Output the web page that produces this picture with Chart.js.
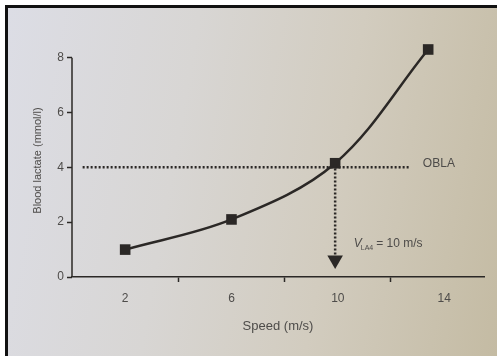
<!DOCTYPE html>
<html>
<head>
<meta charset="utf-8">
<script src="https://cdn.jsdelivr.net/npm/chart.js@4"></script>
<style>
  html, body { margin: 0; padding: 0; background: #ffffff; }
  #page {
    position: absolute; left: 5px; top: 5px; width: 489px; height: 351px;
    border-top: 3px solid #111; border-left: 3px solid #111;
    background: linear-gradient(100deg, #dcdde5 0%, #d8d6d4 35%, #d2ccbf 65%, #c4bba3 100%);
  }
  #wrap { position: absolute; left: 0; top: 0; width: 497px; height: 356px; }
</style>
</head>
<body>
<div id="page"></div>
<div id="wrap"><canvas id="lactateChart"></canvas></div>
<script>
// === Data ===
const speeds = [2, 6, 9.9, 13.4];
const lactate = [1.0, 2.1, 4.15, 8.3];
const xTickValues = [2, 4, 6, 8, 10, 12, 14];
const xLabelled = [2, 6, 10, 14];
const yTickValues = [0, 2, 4, 6, 8];
const oblaX = [0.4, 12.7];
const oblaY = [4, 4];
const vla4X = [9.9, 9.9];
const vla4Y = [4.1, 0.75];
const arrowPoint = [{ x: 9.9, y: 0.62 }];

const ink = '#2b2826';
const textGray = '#4e4c4a';
const font = 'Liberation Sans, Arial, sans-serif';

// y axis line only runs from 0 to 8, the top point sits above it
const yAxisLine = {
  id: 'yAxisLine',
  afterDraw(chart) {
    const ctx = chart.ctx;
    const ys = chart.scales.y;
    ctx.save();
    ctx.strokeStyle = ink;
    ctx.lineWidth = 1.5;
    ctx.beginPath();
    ctx.moveTo(ys.right, ys.getPixelForValue(yTickValues[0]));
    ctx.lineTo(ys.right, ys.getPixelForValue(yTickValues[yTickValues.length - 1]));
    ctx.stroke();
    ctx.restore();
  }
};

// text annotations (OBLA + V_LA4 label)
const annotations = {
  id: 'annotations',
  afterDatasetsDraw(chart) {
    const ctx = chart.ctx;
    const xs = chart.scales.x, ys = chart.scales.y;
    ctx.save();
    ctx.fillStyle = textGray;
    ctx.textBaseline = 'middle';
    ctx.font = '12px ' + font;
    ctx.fillText('OBLA', xs.getPixelForValue(13.2), ys.getPixelForValue(4.15));

    let x = xs.getPixelForValue(10.6);
    const y = ys.getPixelForValue(1.2);
    ctx.font = 'italic 12px ' + font;
    ctx.fillText('V', x, y);
    x += ctx.measureText('V').width - 1;
    ctx.font = '7px ' + font;
    ctx.fillText('LA4', x, y + 4);
    x += ctx.measureText('LA4').width + 3;
    ctx.font = '12px ' + font;
    ctx.fillText('= 10 m/s', x, y);
    ctx.restore();
  }
};

document.addEventListener('DOMContentLoaded', function () {
  const ctx = document.getElementById('lactateChart').getContext('2d');

  new Chart(ctx, {
    type: 'scatter',
    data: {
      datasets: [
        {
          label: 'OBLA',
          data: oblaX.map((x, i) => ({ x: x, y: oblaY[i] })),
          showLine: true,
          borderColor: ink,
          borderWidth: 2.5,
          borderDash: [2, 2],
          pointRadius: 0
        },
        {
          label: 'VLA4',
          data: vla4X.map((x, i) => ({ x: x, y: vla4Y[i] })),
          showLine: true,
          borderColor: ink,
          borderWidth: 2.5,
          borderDash: [2, 2],
          pointRadius: 0
        },
        {
          label: 'Arrow',
          data: arrowPoint,
          pointStyle: 'triangle',
          rotation: 180,
          pointRadius: 9,
          backgroundColor: ink,
          borderColor: ink,
          borderWidth: 0
        },
        {
          label: 'Blood lactate',
          data: speeds.map((x, i) => ({ x: x, y: lactate[i] })),
          showLine: true,
          tension: 0.35,
          borderColor: ink,
          borderWidth: 2.5,
          pointStyle: 'rect',
          pointRadius: 7.5,
          backgroundColor: ink,
          pointBorderWidth: 0
        }
      ]
    },
    options: {
      responsive: true,
      maintainAspectRatio: false,
      animation: false,
      events: [],
      layout: { padding: { left: 28, top: 44, right: 13, bottom: 22 } },
      plugins: {
        legend: { display: false },
        tooltip: { enabled: false }
      },
      scales: {
        x: {
          type: 'linear',
          min: 0,
          max: 15.5,
          afterBuildTicks: function (scale) {
            scale.ticks = xTickValues.map(v => ({ value: v }));
          },
          ticks: {
            autoSkip: false,
            maxRotation: 0,
            padding: 9,
            color: textGray,
            font: { family: font, size: 12 },
            callback: function (value) {
              return xLabelled.includes(value) ? String(value) : '';
            }
          },
          grid: {
            drawOnChartArea: false,
            drawTicks: true,
            tickLength: 5,
            tickWidth: 1.5,
            tickColor: function (c) {
              return c.tick && !xLabelled.includes(c.tick.value) ? ink : 'rgba(0,0,0,0)';
            }
          },
          border: { display: true, color: ink, width: 1.5 },
          title: {
            display: true,
            text: 'Speed (m/s)',
            color: textGray,
            font: { family: font, size: 13 },
            padding: { top: 4, bottom: 0 }
          }
        },
        y: {
          type: 'linear',
          min: 0,
          max: 8.5,
          afterBuildTicks: function (scale) {
            scale.ticks = yTickValues.map(v => ({ value: v }));
          },
          afterFit: function (scale) {
            scale.width = 44;
          },
          ticks: {
            padding: 3,
            color: textGray,
            font: { family: font, size: 12 }
          },
          grid: {
            drawOnChartArea: false,
            drawTicks: true,
            tickLength: 5,
            tickWidth: 1.5,
            tickColor: ink
          },
          border: { display: false },
          title: {
            display: true,
            text: 'Blood lactate (mmol/l)',
            color: textGray,
            font: { family: font, size: 11 },
            padding: { top: 3, bottom: 0 }
          }
        }
      }
    },
    plugins: [annotations, yAxisLine]
  });
});
</script>
</body>
</html>
